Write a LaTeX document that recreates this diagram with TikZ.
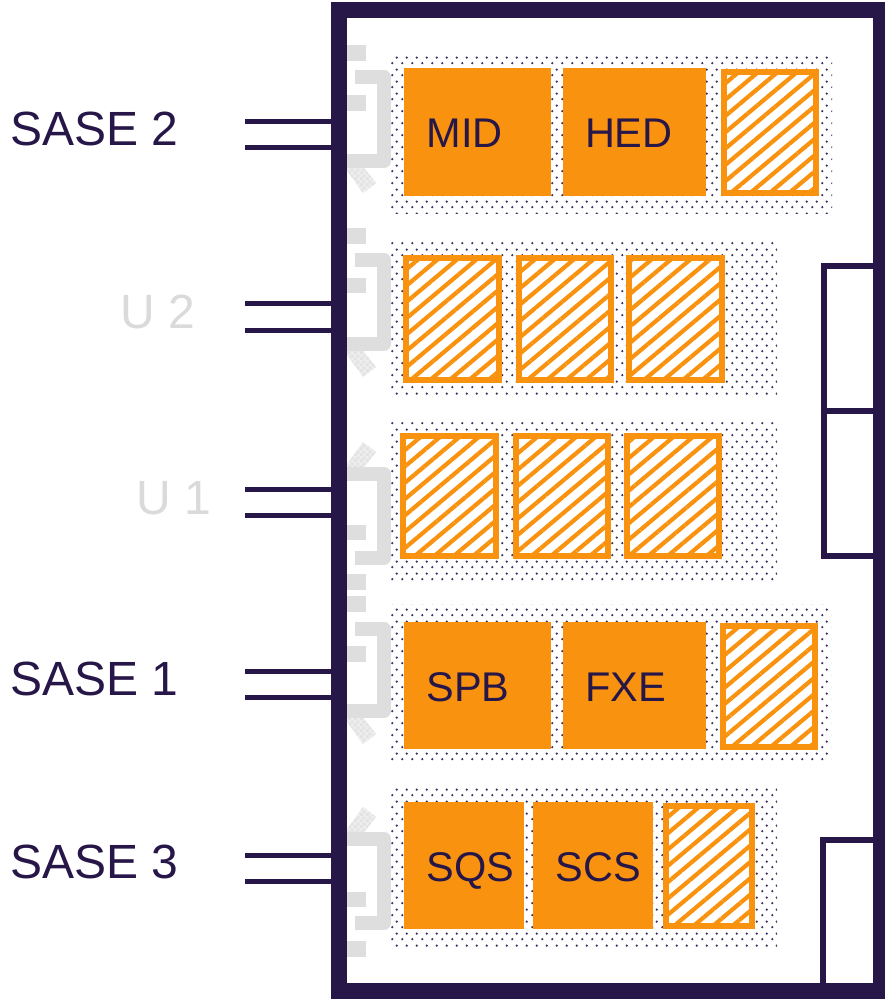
\documentclass[tikz,border=0pt]{standalone}
\usepackage{fontspec}
\setmainfont{Liberation Sans}
\usetikzlibrary{patterns.meta}
\definecolor{xdark}{RGB}{39,22,72}
\definecolor{xorange}{RGB}{249,147,15}
\definecolor{xgray}{RGB}{222,222,222}
\definecolor{xlbl}{RGB}{218,218,218}
\definecolor{xdot}{RGB}{62,50,98}
\definecolor{xchk}{RGB}{226,226,226}
\pgfdeclarepattern{name=bgdots, type=uncolored,
  bottom left={\pgfpoint{0pt}{0pt}}, top right={\pgfpoint{10pt}{12pt}},
  tile size={\pgfpoint{10pt}{12pt}},
  code={\pgfpathcircle{\pgfpoint{2.5pt}{3pt}}{1.35pt}
        \pgfpathcircle{\pgfpoint{7.5pt}{9pt}}{1.35pt}\pgfusepath{fill}}}
\pgfdeclarepattern{name=chkcells, type=uncolored,
  bottom left={\pgfpoint{0pt}{0pt}}, top right={\pgfpoint{6pt}{6pt}},
  tile size={\pgfpoint{6pt}{6pt}},
  code={\pgfpathrectangle{\pgfpoint{0pt}{0pt}}{\pgfpoint{3pt}{3pt}}
        \pgfpathrectangle{\pgfpoint{3pt}{3pt}}{\pgfpoint{3pt}{3pt}}\pgfusepath{fill}}}
\begin{document}
\begin{tikzpicture}[x=1pt,y=-1pt,
  bg/.style={pattern=bgdots, pattern color=xdot},
  inst/.style={rectangle, fill=xorange, inner sep=0pt, minimum height=#1},
  inst/.default=128pt,
  freebox/.style={rectangle, draw=xorange, line width=6pt, inner sep=0pt,
    preaction={fill=white},
    pattern={Lines[angle=40,distance=12.5pt,line width=4.2pt]}, pattern color=xorange},
  ilabel/.style={anchor=base west, inner sep=0pt, text=xdark, font=\fontsize{41.5}{45}\selectfont},
  blabel/.style={anchor=base west, inner sep=0pt, text=xdark, font=\fontsize{48}{52}\selectfont},
  ulabel/.style={anchor=base west, inner sep=0pt, text=xlbl, font=\fontsize{48}{52}\selectfont},
  beam/.style={draw=xdark, line width=5pt},
  frame/.style={draw=xdark, line width=16pt},
  side/.style={draw=xdark, line width=6pt},
  graybar/.style={draw=xgray, line width=14pt, line join=round},
  chk/.style={preaction={fill=white!93!black}, pattern=chkcells, pattern color=xchk}
]
\useasboundingbox (0,0) rectangle (885,1002);
\fill[white] (0,0) rectangle (885,1002);

% dotted backgrounds
\path[bg] (390,54) rectangle (832,213);
\path[bg] (390,241) rectangle (777,397);
\path[bg] (390,422) rectangle (777,580);
\path[bg] (390,604) rectangle (831,762);
\path[bg] (390,788) rectangle (777,946);

% row SASE 2
\node[inst, minimum width=147pt] (mid) at (477.5,132) {};
\node[inst, minimum width=143pt] (hed) at (634.5,132) {};
\node[freebox, minimum width=92pt, minimum height=121pt] (f1) at (770,132.5) {};
\node[ilabel] (midt) at ([xshift=22.5pt,yshift=-15.5pt]mid.west) {MID};
\node[ilabel] (hedt) at ([xshift=22pt,yshift=-15.5pt]hed.west) {HED};

% row U 2
\node[freebox, minimum width=93pt, minimum height=122pt] (u2a) at (452.5,319) {};
\node[freebox, minimum width=92pt, minimum height=122pt] (u2b) at (565,319) {};
\node[freebox, minimum width=93pt, minimum height=122pt] (u2c) at (675.5,319) {};

% row U 1
\node[freebox, minimum width=93pt, minimum height=120pt] (u1a) at (449.5,496) {};
\node[freebox, minimum width=92pt, minimum height=120pt] (u1b) at (562,496) {};
\node[freebox, minimum width=92pt, minimum height=120pt] (u1c) at (673,496) {};

% row SASE 1
\node[inst=127pt, minimum width=147pt] (spb) at (477.5,685.5) {};
\node[inst=127pt, minimum width=143pt] (fxe) at (634.5,685.5) {};
\node[freebox, minimum width=92pt, minimum height=121pt] (f4) at (769,686.5) {};
\node[ilabel] (spbt) at ([xshift=22.5pt,yshift=-15.5pt]spb.west) {SPB};
\node[ilabel] (fxet) at ([xshift=22pt,yshift=-15.5pt]fxe.west) {FXE};

% row SASE 3
\node[inst=127pt, minimum width=120pt] (sqs) at (464,865.5) {};
\node[inst=127pt, minimum width=120pt] (scs) at (593,865.5) {};
\node[freebox, minimum width=86pt, minimum height=120pt] (f5) at (709,866) {};
\node[ilabel] (sqst) at ([xshift=22.5pt,yshift=-15.5pt]sqs.west) {SQS};
\node[ilabel] (scst) at ([xshift=22.5pt,yshift=-15.5pt]scs.west) {SCS};

% gray checker tiles
\path[chk] (345,168) -- (363,193) -- (376,183) -- (358,160) -- cycle;
\path[chk] (345,352) -- (363,377) -- (376,367) -- (358,344) -- cycle;
\path[chk] (345,467) -- (363,442) -- (376,452) -- (358,475) -- cycle;
\path[chk] (345,719) -- (363,744) -- (376,734) -- (358,711) -- cycle;
\path[chk] (345,832) -- (363,807) -- (376,817) -- (358,840) -- cycle;

% gray brackets
\draw[graybar] (355,77) -- (384,77) -- (384,161) -- (346,161);
\draw[graybar] (355,260) -- (384,260) -- (384,344) -- (346,344);
\draw[graybar] (346,474) -- (384,474) -- (384,558) -- (355,558);
\draw[graybar] (355,629) -- (384,629) -- (384,711) -- (346,711);
\draw[graybar] (346,839) -- (384,839) -- (384,923) -- (355,923);

% gray squares
\foreach \a/\b in {45/61,95/111,228/244,278/293,525/540,574/590,596/612,646/662,892/907,941/957}
  \fill[xgray] (346,\a) rectangle (366,\b);

% frame
\draw[frame] (339,10) rectangle (881,991);
% side boxes
\draw[side] (824,266) rectangle (876,556);
\draw[side] (824,411) -- (876,411);
\draw[side] (823,991) -- (823,840) -- (876,840);

% beam lines
\foreach \n/\y in {a/121,b/147,c/303,d/330,e/489,f/515,g/671,h/697,i/855,j/881}{
  \coordinate (s\n) at (245,\y);
  \coordinate (t\n) at (339,\y);
  \draw[beam] (s\n) -- (t\n);
}

% labels
\node[blabel] (sase2) at (10,145) {SASE 2};
\node[ulabel] (u2) at (120,328) {U 2};
\node[ulabel] (u1) at (136,514) {U 1};
\node[blabel] (sase1) at (10,695) {SASE 1};
\node[blabel] (sase3) at (10,878) {SASE 3};
\end{tikzpicture}
\end{document}
